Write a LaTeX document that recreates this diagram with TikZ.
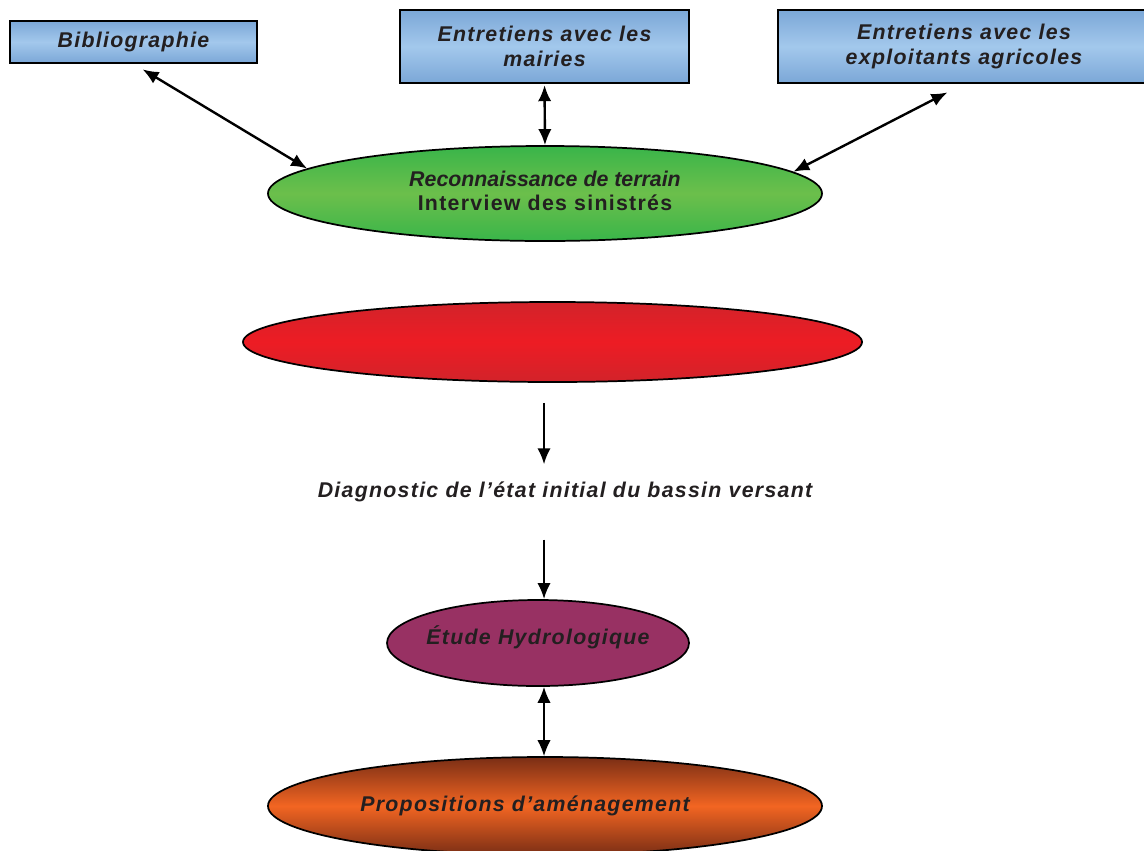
\documentclass[tikz,border=0pt]{standalone}
\usepackage{fontspec}
\setmainfont{Liberation Sans}
\newfontfamily\spacedfont[LetterSpace=6]{Liberation Sans}
\usetikzlibrary{positioning,arrows.meta,shapes.geometric}
\definecolor{BoxBlue}{HTML}{A3C8EC}
\definecolor{BoxBlueEdge}{HTML}{7BA7D7}
\definecolor{LeafGreen}{HTML}{6CBF4B}
\definecolor{LeafGreenEdge}{HTML}{39B54A}
\definecolor{SignalRed}{HTML}{ED1C24}
\definecolor{SignalRedEdge}{HTML}{D2232A}
\definecolor{Plum}{HTML}{983163}
\definecolor{Ember}{HTML}{F26522}
\definecolor{EmberEdge}{HTML}{7A2E15}
\definecolor{InkGrey}{HTML}{231F20}

\begin{document}
\begin{tikzpicture}[x=0.75pt,y=-0.75pt,
  srcbox/.style={draw,line width=1.3pt,top color=BoxBlueEdge,bottom color=BoxBlueEdge,middle color=BoxBlue,
    inner sep=0pt,align=center,text=InkGrey,
    font=\spacedfont\bfseries\itshape\fontsize{16}{18.75}\selectfont},
  stage/.style={draw,ellipse,line width=1.3pt,inner sep=0pt,align=center,text=InkGrey,
    font=\spacedfont\bfseries\itshape\fontsize{16}{18}\selectfont},
  dbl/.style={{Latex[length=12pt,width=10pt]}-{Latex[length=12pt,width=10pt]},line width=1.8pt},
  down/.style={-{Latex[length=12pt,width=10pt]},line width=1.8pt}]
  \useasboundingbox (0,0) rectangle (1144,850);
  \coordinate (spine) at (544,0);

  % sources
  \node[srcbox,minimum width=185.25pt,minimum height=31.5pt] (biblio) at (133.5,42)
    {\raisebox{-3pt}{Bibliographie}};
  \node[srcbox,minimum width=216.75pt,minimum height=54.75pt] (mairies) at (544.5,46.5)
    {Entretiens avec les\\mairies};
  \node[srcbox,minimum width=279pt,minimum height=54.75pt] (exploit) at (964,46.5)
    {Entretiens avec les\\exploitants agricoles};

  % stages
  \node[stage,top color=LeafGreenEdge,bottom color=LeafGreenEdge,middle color=LeafGreen,
    minimum width=415.5pt,minimum height=71.25pt] (terrain) at (545,193.5)
    {{\fontspec{Liberation Sans}\bfseries\itshape Reconnaissance de terrain}\\
     \upshape Interview des sinistrés\rule[-4pt]{0pt}{0pt}};
  \node[stage,top color=SignalRedEdge,bottom color=SignalRedEdge,middle color=SignalRed,
    minimum width=464.25pt,minimum height=60pt] (synth) at (552.5,342) {};
  \node[inner sep=0pt,text=InkGrey,font=\spacedfont\bfseries\itshape\fontsize{16}{18}\selectfont] (diag)
    at (565,492) {Diagnostic de l’état initial du bassin versant};
  \node[stage,fill=Plum,minimum width=226.5pt,minimum height=64.5pt] (hydro) at (538,643)
    {\makebox[0pt]{Étude Hydrologique}\rule[-11.4pt]{0pt}{0pt}};
  \node[stage,top color=EmberEdge,bottom color=EmberEdge,middle color=Ember,
    minimum width=415.5pt,minimum height=73.5pt] (amenag) at (545,806)
    {\hspace*{-30pt}Propositions d’aménagement};

  % links
  \draw[dbl,shorten <=8pt] (biblio.south) -- (terrain.174);
  \draw[dbl,shorten <=1pt] (mairies.south) -- (terrain.north);
  \draw[dbl,shorten <=14pt] (exploit.south) -- (terrain.5);
  \draw[down,shorten <=15pt,shorten >=13pt] (synth.south -| spine) -- (diag.north -| spine);
  \draw[down,shorten <=28pt] (diag.south -| spine) -- (hydro.north -| spine);
  \draw[{Latex[length=12pt,width=10pt]}-{Latex[length=12pt,width=10pt]},line width=1.2pt]
    (hydro.south -| spine) -- (amenag.north -| spine);
\end{tikzpicture}
\end{document}
